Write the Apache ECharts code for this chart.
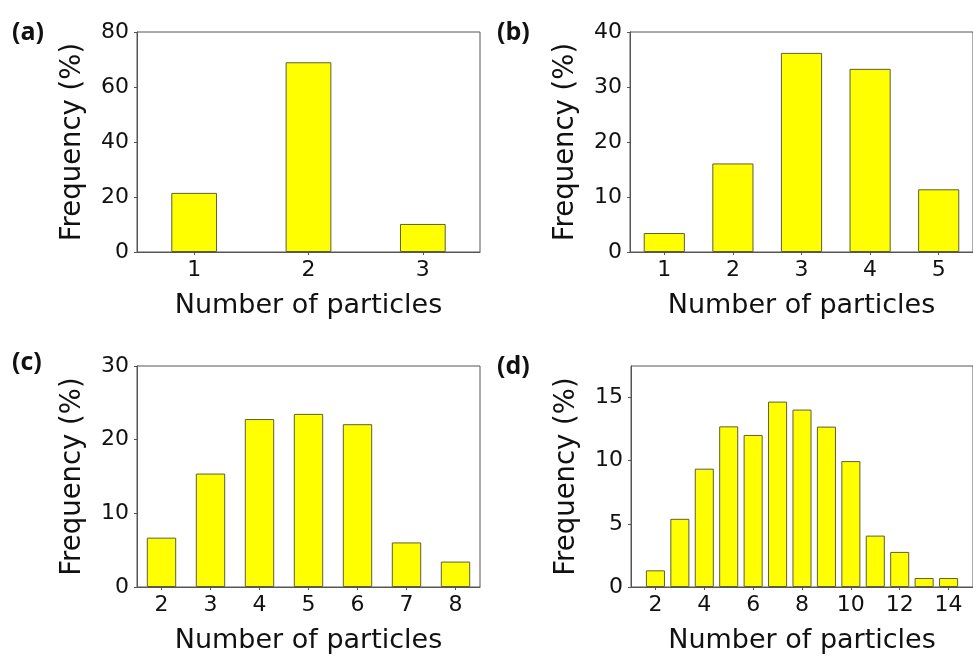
<!DOCTYPE html>
<html>
<head>
<meta charset="utf-8">
<script src="https://cdn.jsdelivr.net/npm/echarts@6/dist/echarts.min.js"></script>
<style>html,body{margin:0;padding:0;background:#fff}#c{width:973px;height:657px}</style>
</head>
<body>
<div id="c"></div>
<script>
const catsA = ['1', '2', '3'];
const valsA = [21.5, 69, 10.2];
const catsB = ['1', '2', '3', '4', '5'];
const valsB = [3.45, 16.1, 36.2, 33.3, 11.4];
const catsC = ['2', '3', '4', '5', '6', '7', '8'];
const valsC = [6.7, 15.4, 22.8, 23.5, 22.1, 6.05, 3.45];
const xD = [2, 3, 4, 5, 6, 7, 8, 9, 10, 11, 12, 13, 14];
const valsD = [1.32, 5.4, 9.37, 12.72, 12.04, 14.68, 14.05, 12.7, 9.97, 4.07, 2.78, 0.71, 0.71];
const ticksD = [2, 4, 6, 8, 10, 12, 14];
const yTicksD = [0, 5, 10, 15];
const panelLabels = ['(a)', '(b)', '(c)', '(d)'];
const xTitle = 'Number of particles';
const yTitle = 'Frequency (%)';

const FONT = 'DejaVu Sans';
const TXT = '#111';
const LINE = '#555';
const grids = [
  {left: 137, top: 32, width: 343, height: 220},
  {left: 630, top: 32, width: 343, height: 220},
  {left: 137, top: 366, width: 343, height: 221},
  {left: 631, top: 366, width: 342, height: 221}
];
const labelPos = [[12, 20], [497, 20], [12, 350], [497, 354]];

function yAxis(i, max, interval, extra) {
  return Object.assign({
    type: 'value', gridIndex: i, min: 0, max: max, interval: interval,
    name: yTitle, nameLocation: 'middle', nameGap: 50,
    nameTextStyle: {fontFamily: FONT, fontSize: 27.5, color: TXT},
    axisLine: {show: true, lineStyle: {color: LINE, width: 1}},
    axisTick: {show: true, length: 3, inside: false, lineStyle: {color: LINE}},
    axisLabel: {fontFamily: FONT, fontSize: 22, color: TXT, margin: 8},
    splitLine: {show: false}
  }, extra || {});
}
function xCat(i, cats) {
  return {
    type: 'category', gridIndex: i, data: cats, boundaryGap: true,
    name: xTitle, nameLocation: 'middle', nameGap: 40,
    nameTextStyle: {fontFamily: FONT, fontSize: 27, color: TXT},
    axisLine: {show: true, lineStyle: {color: LINE, width: 1}},
    axisTick: {show: true, alignWithLabel: true, length: 3, lineStyle: {color: LINE}},
    axisLabel: {fontFamily: FONT, fontSize: 22, color: TXT, margin: 7},
    splitLine: {show: false}
  };
}
const barStyle = {color: '#ffff00', borderColor: '#5e5e3a', borderWidth: 1};

const option = {
  animation: false,
  backgroundColor: '#fff',
  title: panelLabels.map((t, i) => ({
    text: t, left: labelPos[i][0], top: labelPos[i][1], padding: 0,
    textStyle: {fontFamily: 'Open Sans', fontWeight: 'bold', fontSize: 25, color: TXT}
  })),
  grid: grids.map(g => Object.assign({show: true, borderColor: LINE, borderWidth: 1, backgroundColor: 'transparent', containLabel: false}, g)),
  xAxis: [
    xCat(0, catsA),
    xCat(1, catsB),
    xCat(2, catsC),
    {
      type: 'value', gridIndex: 3, min: 1, max: 15,
      name: xTitle, nameLocation: 'middle', nameGap: 40,
      nameTextStyle: {fontFamily: FONT, fontSize: 27, color: TXT},
      axisLine: {show: true, lineStyle: {color: LINE, width: 1}},
      axisTick: {show: true, length: 3, customValues: ticksD, lineStyle: {color: LINE}},
      axisLabel: {fontFamily: FONT, fontSize: 22, color: TXT, margin: 7, customValues: ticksD},
      splitLine: {show: false}
    }
  ],
  yAxis: [
    yAxis(0, 80, 20),
    yAxis(1, 40, 10),
    yAxis(2, 30, 10),
    yAxis(3, 17.5, 5, {
      axisTick: {show: true, length: 3, customValues: yTicksD, lineStyle: {color: LINE}},
      axisLabel: {fontFamily: FONT, fontSize: 22, color: TXT, margin: 8, customValues: yTicksD}
    })
  ],
  series: [
    {type: 'bar', xAxisIndex: 0, yAxisIndex: 0, data: valsA, barWidth: '40%', itemStyle: barStyle},
    {type: 'bar', xAxisIndex: 1, yAxisIndex: 1, data: valsB, barWidth: '60%', itemStyle: barStyle},
    {type: 'bar', xAxisIndex: 2, yAxisIndex: 2, data: valsC, barWidth: '60%', itemStyle: barStyle},
    {type: 'bar', xAxisIndex: 3, yAxisIndex: 3, data: xD.map((x, k) => [x, valsD[k]]), barWidth: '78%', itemStyle: barStyle}
  ]
};
const chart = echarts.init(document.getElementById('c'), null, {renderer: 'canvas'});
chart.setOption(option);
</script>
</body>
</html>
